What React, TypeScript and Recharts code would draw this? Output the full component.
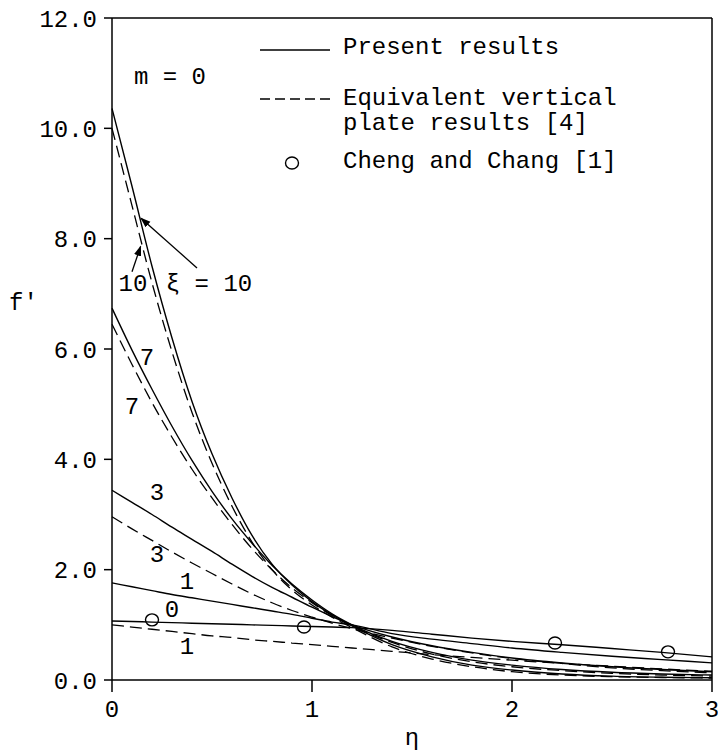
import React from "react";
import {
  ComposedChart,
  Line,
  Scatter,
  XAxis,
  YAxis,
  ReferenceLine,
  ReferenceDot,
} from "recharts";

// eta grid shared by every curve
const etaGrid = [0, 0.1, 0.2, 0.3, 0.4, 0.5, 0.6, 0.7, 0.8, 0.9, 1.0, 1.1, 1.2, 1.4, 1.6, 1.8, 2.0, 2.25, 2.5, 2.75, 3.0];

// present results (solid), by xi
const present0 = [1.07, 1.06, 1.05, 1.04, 1.03, 1.02, 1.01, 1.0, 0.99, 0.98, 0.97, 0.96, 0.95, 0.9, 0.83, 0.76, 0.7, 0.64, 0.57, 0.5, 0.42];
const present1 = [1.76, 1.69, 1.62, 1.55, 1.49, 1.43, 1.37, 1.31, 1.25, 1.19, 1.12, 1.05, 1.0, 0.84, 0.74, 0.66, 0.58, 0.5, 0.43, 0.37, 0.31];
const present3 = [3.44, 3.22, 3.0, 2.77, 2.55, 2.33, 2.1, 1.88, 1.68, 1.5, 1.32, 1.15, 1.0, 0.78, 0.62, 0.5, 0.4, 0.31, 0.24, 0.19, 0.15];
const present7 = [6.74, 5.98, 5.27, 4.6, 3.98, 3.42, 2.92, 2.48, 2.08, 1.74, 1.45, 1.2, 1.0, 0.7, 0.5, 0.36, 0.27, 0.19, 0.14, 0.11, 0.09];
const present10 = [10.36, 8.95, 7.5, 6.2, 5.05, 4.1, 3.3, 2.62, 2.1, 1.72, 1.42, 1.18, 0.98, 0.64, 0.42, 0.27, 0.18, 0.11, 0.07, 0.05, 0.04];

// equivalent vertical plate results (dashed)
const plate1 = [1.0, 0.96, 0.92, 0.88, 0.84, 0.8, 0.77, 0.73, 0.7, 0.67, 0.64, 0.61, 0.58, 0.52, 0.46, 0.41, 0.36, 0.3, 0.25, 0.2, 0.16];
const plate3 = [2.96, 2.74, 2.53, 2.32, 2.12, 1.93, 1.74, 1.56, 1.4, 1.26, 1.14, 1.03, 0.93, 0.76, 0.61, 0.49, 0.39, 0.3, 0.22, 0.17, 0.13];
const plate7 = [6.45, 5.72, 5.03, 4.4, 3.82, 3.3, 2.82, 2.38, 2.0, 1.67, 1.4, 1.17, 0.98, 0.68, 0.47, 0.33, 0.24, 0.17, 0.12, 0.09, 0.07];
const plate10 = [10.0, 8.6, 7.2, 5.95, 4.85, 3.93, 3.15, 2.5, 2.0, 1.63, 1.36, 1.14, 0.95, 0.6, 0.38, 0.24, 0.15, 0.09, 0.06, 0.045, 0.035];

// Cheng and Chang [1]
const chengEta = [0.2, 0.96, 2.215, 2.78];
const chengF = [1.09, 0.96, 0.67, 0.51];

const xTicks = [0, 1, 2, 3];
const yTicks = [0, 2, 4, 6, 8, 10, 12];

// curve annotations, in data coordinates
const notes = [
  { text: "m = 0", eta: 0.29, f: 10.95 },
  { text: "10", eta: 0.105, f: 7.2 },
  { text: "\u03be = 10", eta: 0.485, f: 7.2 },
  { text: "7", eta: 0.175, f: 5.86 },
  { text: "7", eta: 0.1, f: 4.98 },
  { text: "3", eta: 0.225, f: 3.41 },
  { text: "3", eta: 0.225, f: 2.3 },
  { text: "1", eta: 0.375, f: 1.81 },
  { text: "0", eta: 0.3, f: 1.3 },
  { text: "1", eta: 0.375, f: 0.63 },
];

const arrows = [
  { from: { eta: 0.425, f: 7.47 }, to: { eta: 0.145, f: 8.37 } },
  { from: { eta: 0.1, f: 7.4 }, to: { eta: 0.143, f: 7.86 } },
];

const FONT = "'Liberation Mono', 'DejaVu Sans Mono', monospace";

const table = etaGrid.map((eta, i) => ({
  eta,
  s0: present0[i],
  s1: present1[i],
  s3: present3[i],
  s7: present7[i],
  s10: present10[i],
  d1: plate1[i],
  d3: plate3[i],
  d7: plate7[i],
  d10: plate10[i],
}));

const chengData = chengEta.map((eta, i) => ({ eta, cc: chengF[i] }));

const solidKeys = ["s0", "s1", "s3", "s7", "s10"];
const dashedKeys = ["d1", "d3", "d7", "d10"];

function Ring(props: { cx?: number; cy?: number }) {
  if (props.cx == null || props.cy == null) return null;
  return <ellipse cx={props.cx} cy={props.cy} rx={6.5} ry={6} fill="none" stroke="#000" strokeWidth={1.4} />;
}

function ChartLegend() {
  const text: React.CSSProperties = {
    position: "absolute",
    left: 88,
    fontSize: 24,
    lineHeight: "24px",
    whiteSpace: "pre",
    color: "#000",
  };
  return (
    <div style={{ position: "absolute", left: 255, top: 30, width: 440, height: 150, fontFamily: FONT }}>
      <svg width={80} height={150} style={{ position: "absolute", left: 0, top: 0 }}>
        <line x1={5} x2={75} y1={20} y2={20} stroke="#000" strokeWidth={1.4} />
        <line x1={5} x2={75} y1={69} y2={69} stroke="#000" strokeWidth={1.4} strokeDasharray="10 5" />
        <ellipse cx={37} cy={133} rx={6.5} ry={6} fill="none" stroke="#000" strokeWidth={1.4} />
      </svg>
      <span style={{ ...text, top: 6 }}>Present results</span>
      <span style={{ ...text, top: 57 }}>Equivalent vertical</span>
      <span style={{ ...text, top: 82 }}>plate results [4]</span>
      <span style={{ ...text, top: 120 }}>Cheng and Chang [1]</span>
    </div>
  );
}

export default function App() {
  return (
    <div
      style={{
        position: "absolute",
        left: 0,
        top: 0,
        width: 718,
        height: 752,
        background: "#fff",
        overflow: "hidden",
        fontFamily: FONT,
      }}
    >
      <ComposedChart width={718} height={752} data={table} margin={{ top: 18, right: 6, bottom: 0, left: 0 }}>
        <defs>
          <marker id="head" viewBox="0 0 10 10" refX="9" refY="5" markerWidth="8" markerHeight="8" orient="auto">
            <path d="M0,1.5 L10,5 L0,8.5 z" fill="#000" />
          </marker>
        </defs>
        <XAxis
          dataKey="eta"
          type="number"
          domain={[0, 3]}
          ticks={xTicks}
          interval={0}
          height={72}
          tickSize={12}
          tickMargin={8}
          axisLine={{ stroke: "#000", strokeWidth: 1.5 }}
          tickLine={{ stroke: "#000", strokeWidth: 1.5 }}
          tick={{ fill: "#000", fontSize: 24, fontFamily: FONT }}
          label={{ value: "\u03b7", position: "insideBottom", offset: 7, fill: "#000", fontSize: 24, fontFamily: FONT }}
        />
        <YAxis
          type="number"
          domain={[0, 12]}
          ticks={yTicks}
          interval={0}
          width={112}
          tickSize={8}
          tickMargin={7}
          tickFormatter={(v: number) => v.toFixed(1)}
          axisLine={{ stroke: "#000", strokeWidth: 1.5 }}
          tickLine={{ stroke: "#000", strokeWidth: 1.5 }}
          tick={{ fill: "#000", fontSize: 24, fontFamily: FONT }}
        />
        <ReferenceLine y={12} stroke="#000" strokeWidth={1.5} />
        <ReferenceLine x={3} stroke="#000" strokeWidth={1.5} />
        {solidKeys.map((k) => (
          <Line key={k} type="monotone" dataKey={k} stroke="#000" strokeWidth={1.4} dot={false} isAnimationActive={false} />
        ))}
        {dashedKeys.map((k) => (
          <Line
            key={k}
            type="monotone"
            dataKey={k}
            stroke="#000"
            strokeWidth={1.3}
            strokeDasharray="12 6"
            dot={false}
            isAnimationActive={false}
          />
        ))}
        <Scatter data={chengData} dataKey="cc" shape={<Ring />} isAnimationActive={false} />
        {arrows.map((a, i) => (
          <ReferenceLine
            key={"a" + i}
            segment={[
              { x: a.from.eta, y: a.from.f },
              { x: a.to.eta, y: a.to.f },
            ]}
            stroke="#000"
            strokeWidth={1.3}
            markerEnd="url(#head)"
          />
        ))}
        {notes.map((n, i) => (
          <ReferenceDot
            key={"n" + i}
            x={n.eta}
            y={n.f}
            r={0}
            fill="none"
            stroke="none"
            label={{ value: n.text, position: "center", fill: "#000", fontSize: 24, fontFamily: FONT }}
          />
        ))}
      </ComposedChart>
      <ChartLegend />
      <span style={{ position: "absolute", left: 9, top: 292, fontSize: 24, lineHeight: "24px", color: "#000" }}>f'</span>
    </div>
  );
}
